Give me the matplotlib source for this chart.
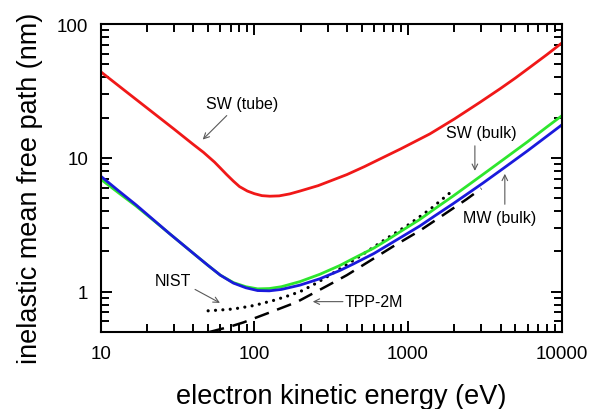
import matplotlib

matplotlib.use("Agg")
import matplotlib.pyplot as plt
from matplotlib import ticker

plt.rcParams["font.family"] = ["Liberation Sans", "DejaVu Sans"]

# SW (tube)
tube_energy = [10, 14, 20, 30, 40, 46.6, 55, 60, 66, 73, 80, 90, 100, 112, 126, 145, 170,
               198, 260, 310, 400, 520, 656, 900, 1387, 2000, 2937, 4000, 5000, 6211, 8000,
               10000]
tube_imfp = [44.0, 32.5, 23.6, 16.4, 12.6, 11.0, 9.3, 8.4, 7.5, 6.7, 6.1, 5.65, 5.4, 5.22,
             5.17, 5.2, 5.38, 5.65, 6.2, 6.7, 7.5, 8.6, 9.8, 11.7, 15.1, 19.5, 26.0, 33.0,
             39.5, 47.5, 59.0, 72.0]

# SW (bulk) and MW (bulk) share the energy grid
bulk_energy = [10, 13, 17, 22, 28, 35, 42, 50, 60, 73, 88, 105, 125, 150, 198, 267, 360,
               440, 600, 726, 900, 1195, 1500, 1968, 2500, 3084, 4266, 6000, 8000, 10000]
sw_bulk_imfp = [6.93, 5.5, 4.36, 3.42, 2.72, 2.2, 1.85, 1.57, 1.33, 1.17, 1.09, 1.05, 1.056,
                1.09, 1.19, 1.35, 1.57, 1.77, 2.12, 2.42, 2.83, 3.47, 4.18, 5.19, 6.33, 7.54,
                9.9, 13.2, 17.0, 20.6]
mw_bulk_imfp = [7.3, 5.7, 4.45, 3.45, 2.72, 2.2, 1.85, 1.57, 1.33, 1.16, 1.07, 1.02, 1.015,
                1.04, 1.12, 1.25, 1.44, 1.61, 1.93, 2.2, 2.55, 3.1, 3.7, 4.55, 5.5, 6.5, 8.5,
                11.3, 14.5, 17.6]

# NIST database (dotted)
nist_energy = [50, 60, 70, 80, 100, 133, 165, 198, 240, 290, 360, 500, 726, 1000, 1400, 1900]
nist_imfp = [0.72, 0.73, 0.74, 0.755, 0.79, 0.86, 0.93, 1.0, 1.12, 1.27, 1.48, 1.88, 2.5,
             3.15, 4.15, 5.55]

# TPP-2M (dashed)
tpp_energy = [51, 70, 85, 126, 188, 295, 400, 565, 800, 1195, 1700, 2400, 3000]
tpp_imfp = [0.50, 0.55, 0.59, 0.70, 0.835, 1.10, 1.33, 1.70, 2.18, 2.86, 3.75, 4.9, 5.9]

x_ticks = [10, 100, 1000, 10000]
x_tick_labels = ["10", "100", "1000", "10000"]
y_ticks = [1, 10, 100]
y_tick_labels = ["1", "10", "100"]

fig = plt.figure(figsize=(6.05, 4.10), dpi=100)
ax = fig.add_axes([0.1665, 0.1878, 0.7619, 0.7512])

ax.plot(tpp_energy, tpp_imfp, color="black", lw=1.8, linestyle=(0, (6, 3.5)))
ax.plot(nist_energy, nist_imfp, color="black", lw=2.3, linestyle=(0, (0.01, 2.3)),
        dash_capstyle="round")
ax.plot(bulk_energy, sw_bulk_imfp, color="#2ee62e", lw=2.0)
ax.plot(bulk_energy, mw_bulk_imfp, color="#1a1adc", lw=2.0)
ax.plot(tube_energy, tube_imfp, color="#f01818", lw=2.0)

ax.set_xscale("log")
ax.set_yscale("log")
ax.set_xlim(10, 10000)
ax.set_ylim(0.5, 100)

ax.set_xticks(x_ticks)
ax.set_xticklabels(x_tick_labels)
ax.set_yticks(y_ticks)
ax.set_yticklabels(y_tick_labels)
ax.xaxis.set_minor_formatter(ticker.NullFormatter())
ax.yaxis.set_minor_formatter(ticker.NullFormatter())

ax.tick_params(which="both", direction="in", top=True, right=True, width=1.4, colors="black")
ax.tick_params(which="major", length=8, labelsize=13.5, pad=9)
ax.tick_params(which="minor", length=6)
for spine in ax.spines.values():
    spine.set_linewidth(1.5)

ax.set_xlabel("electron kinetic energy (eV)", fontsize=19.5)
ax.set_ylabel("inelastic mean free path (nm)", fontsize=19.5)
ax.xaxis.set_label_coords(0.522, -0.165)
ax.yaxis.set_label_coords(-0.125, 0.47)

arrow = dict(arrowstyle="->", color="0.35", lw=0.8, shrinkA=0, shrinkB=0)
note_size = 11.5

ax.text(83.7, 25.3, "SW (tube)", fontsize=note_size, ha="center", va="center")
ax.annotate("", xy=(46.1, 13.7), xytext=(66.1, 20.7), arrowprops=arrow)

ax.text(3006, 15.6, "SW (bulk)", fontsize=note_size, ha="center", va="center")
ax.annotate("", xy=(2723, 8.0), xytext=(2723, 12.3), arrowprops=arrow)

ax.text(3936, 3.56, "MW (bulk)", fontsize=note_size, ha="center", va="center")
ax.annotate("", xy=(4266, 7.6), xytext=(4266, 4.5), arrowprops=arrow)

ax.text(29.3, 1.21, "NIST", fontsize=note_size, ha="center", va="center")
ax.annotate("", xy=(59.7, 0.825), xytext=(41.1, 1.04), arrowprops=arrow)

ax.text(388, 0.843, "TPP-2M", fontsize=note_size, ha="left", va="center")
ax.annotate("", xy=(240, 0.843), xytext=(377, 0.843), arrowprops=arrow)

fig.savefig("out.png", dpi=100)
